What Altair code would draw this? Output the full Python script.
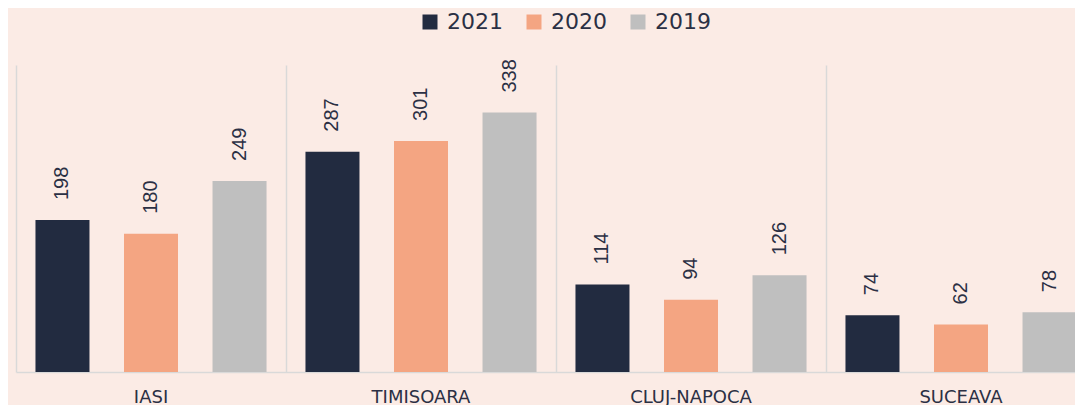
import altair as alt
import pandas as pd

cities = ["IASI", "TIMISOARA", "CLUJ-NAPOCA", "SUCEAVA"]
years = ["2021", "2020", "2019"]
v2021 = [198, 287, 114, 74]
v2020 = [180, 301, 94, 62]
v2019 = [249, 338, 126, 78]
colors = ["#222B40", "#F4A582", "#BFBFBF"]

rows = []
for i, c in enumerate(cities):
    for y, vals in zip(years, [v2021, v2020, v2019]):
        rows.append({"city": c, "year": y, "value": vals[i]})
df = pd.DataFrame(rows)

x = alt.X("city:N", sort=cities, title=None,
          scale=alt.Scale(paddingInner=0, paddingOuter=0),
          axis=alt.Axis(labelAngle=0, labelFontSize=18, labelColor="#2B3044",
                        labelFont="DejaVu Sans", labelPadding=16, ticks=False,
                        domainColor="#D9D9D9", domainWidth=1.5,
                        grid=True, gridColor="#D9D9D9", gridWidth=1.5,
                        bandPosition=0))
xoff = alt.XOffset("year:N", sort=years,
                   scale=alt.Scale(paddingInner=0.39, paddingOuter=0.22))
y = alt.Y("value:Q", title=None, scale=alt.Scale(domain=[0, 400]), axis=None)

bars = alt.Chart(df).mark_bar().encode(
    x=x, xOffset=xoff, y=y,
    color=alt.Color("year:N", sort=years,
                    scale=alt.Scale(domain=years, range=colors),
                    legend=alt.Legend(title=None, orient="none", direction="horizontal",
                                      legendX=403, legendY=-54,
                                      symbolType="square", symbolSize=225,
                                      symbolStrokeWidth=0, symbolOpacity=1,
                                      labelFontSize=22, labelColor="#2B3044",
                                      labelFont="DejaVu Sans",
                                      labelOffset=6, columnPadding=20)),
)

labels = alt.Chart(df).mark_text(angle=270, align="left", baseline="middle",
                                 dx=20, fontSize=20, font="Liberation Sans",
                                 color="#2B3044").encode(
    x=x, xOffset=xoff, y=y, text="value:Q")

chart = (bars + labels).properties(
    width=1080, height=307,
    background="#FBEBE5",
    autosize=alt.AutoSizeParams(type="none"),
    padding={"left": 8, "top": 57, "right": -21, "bottom": 33},
).configure_view(stroke=None)

chart.save("out.html", embed_options={"renderer": "svg", "actions": False})
